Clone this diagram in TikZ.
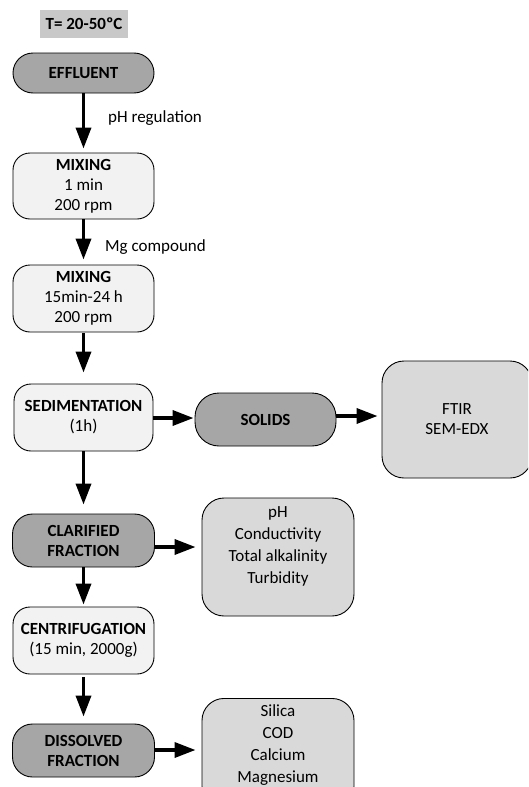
\documentclass[tikz,border=0pt]{standalone}
\usepackage{fontspec}
\setmainfont{Carlito}
\usetikzlibrary{arrows.meta}
\definecolor{darkfill}{HTML}{A6A6A6}
\definecolor{lightfill}{HTML}{F2F2F2}
\definecolor{resfill}{HTML}{D9D9D9}
\definecolor{tfill}{HTML}{C8C8C8}
\tikzset{
  txt/.style={font=\fontsize{17}{20}\selectfont},
  base/.style={txt, draw=black, line width=0.9pt, align=center, inner sep=0pt},
  darkbox/.style={base, fill=darkfill, font=\fontsize{17}{20}\selectfont\bfseries},
  lightbox/.style={base, fill=lightfill, rounded corners=17pt},
  resbox/.style={base, fill=resfill, rounded corners=22pt},
  flow/.style={line width=3.5pt, -{Triangle[length=21pt,width=15pt]}},
  lbl/.style={txt, anchor=west, inner sep=0pt}
}
\begin{document}
\begin{tikzpicture}[x=1pt,y=-1pt]
\path[clip] (0,0) rectangle (528,787);
\fill[white] (0,0) rectangle (528,787);
% temperature
\node[txt, fill=tfill, minimum width=88pt, minimum height=28pt, inner sep=0pt, font=\fontsize{17}{20}\selectfont\bfseries] (temp) at (84,24) {T= 20-50ºC};
% main column
\node[darkbox, minimum width=141pt, minimum height=40pt, rounded corners=20pt] (eff) at (83.5,73) {EFFLUENT};
\node[lightbox, minimum width=141pt, minimum height=66pt] (mixa) at (83.5,186) {\textbf{MIXING}\\1 min\\200 rpm};
\node[lightbox, minimum width=141pt, minimum height=67pt] (mixb) at (83.5,298.5) {\textbf{MIXING}\\15min-24 h\\200 rpm};
\node[lightbox, minimum width=139pt, minimum height=67pt] (sed) at (83.5,417.5) {\textbf{SEDIMENTATION}\\(1h)};
\node[darkbox, minimum width=141pt, minimum height=53pt, rounded corners=24pt] (sol) at (265.5,419.5) {SOLIDS};
\node[resbox, minimum width=150pt, minimum height=117pt, rounded corners=22pt] (ftir) at (457,419.5) {FTIR\\SEM-EDX};
\node[darkbox, minimum width=142pt, minimum height=53pt, rounded corners=20pt] (clar) at (83.5,540.5) {CLARIFIED\\FRACTION};
\node[resbox, minimum width=152pt, minimum height=118pt] (phb) at (278,557) {};
\node[txt, align=center, inner sep=0pt, font=\fontsize{17}{22}\selectfont] (phtxt) at (278,546.5) {pH\\Conductivity\\Total alkalinity\\Turbidity};
\node[lightbox, minimum width=141pt, minimum height=67pt] (cent) at (83.5,640.5) {\textbf{CENTRIFUGATION}\\(15 min, 2000g)};
\node[darkbox, minimum width=142pt, minimum height=53pt, rounded corners=20pt] (diss) at (83.5,750.5) {DISSOLVED\\FRACTION};
\node[resbox, minimum width=152pt, minimum height=110pt, anchor=north] (sil) at (278,698) {};
\node[txt, align=center, inner sep=0pt, font=\fontsize{17}{22}\selectfont] (siltxt) at (278,745) {Silica\\COD\\Calcium\\Magnesium};
% labels
\node[lbl] (lph) at (108,118) {pH regulation};
\node[lbl] (lmg) at (105,247) {Mg compound};
% connectors
\draw[flow, shorten >=4pt] (eff.south) -- (mixa.north);
\draw[flow, shorten >=5pt] (mixa.south) -- (mixb.north);
\draw[flow, shorten <=1pt, shorten >=11pt] (mixb.south) -- (sed.north);
\draw[flow, shorten >=9pt] (sed.south) -- (clar.north);
\draw[flow, shorten >=2pt] (clar.south) -- (cent.north);
\draw[flow, shorten <=3pt, shorten >=7pt] (cent.south) -- (diss.north);
\draw[flow, shorten >=1pt] (sed.east |- 0,418) -- (sol.west |- 0,418);
\draw[flow, shorten >=4pt] (sol.east |- 0,416) -- (ftir.west |- 0,416);
\draw[flow, shorten >=6pt] (clar.east |- 0,547) -- (phb.west |- 0,547);
\draw[flow, shorten >=6pt] (diss.east |- 0,750) -- (sil.west |- 0,750);
\end{tikzpicture}
\end{document}
